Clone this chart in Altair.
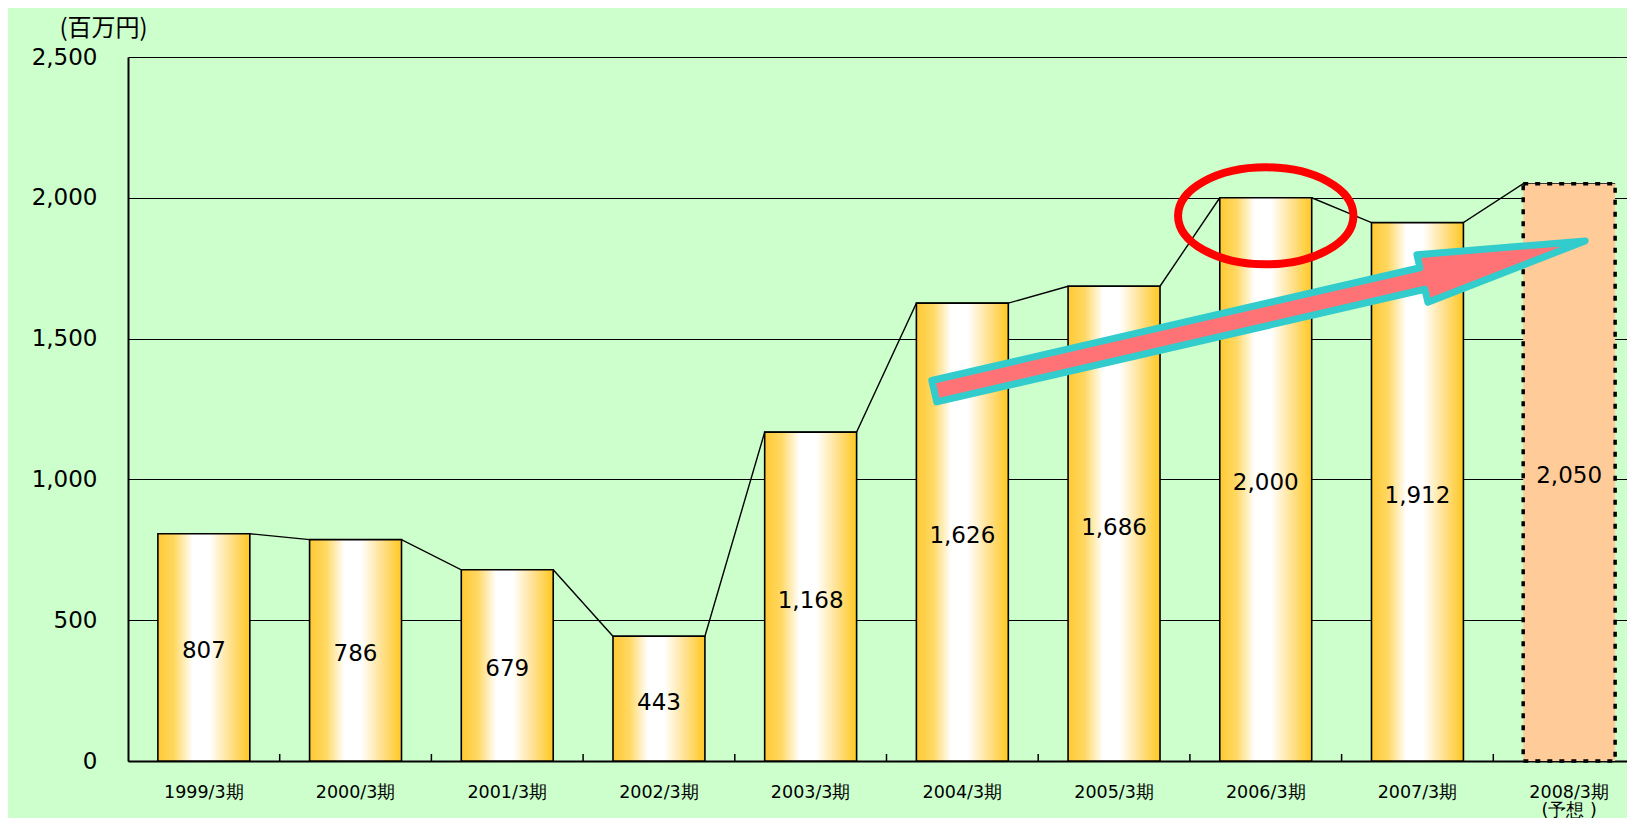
import altair as alt
import pandas as pd

# ---------------- data ----------------
categories = ["1999/3期", "2000/3期", "2001/3期", "2002/3期", "2003/3期",
              "2004/3期", "2005/3期", "2006/3期", "2007/3期", "2008/3期"]
values = [807, 786, 679, 443, 1168, 1626, 1686, 2000, 1912, 2050]
kinds = ["実績"] * 9 + ["予想"]
y_ticks = [0, 500, 1000, 1500, 2000, 2500]
forecast_note = "(予想 )"
unit_title = "(百万円)"

# annotation anchors (data space)
highlight_category = "2006/3期"
highlight_value = 1936
arrow_pos = 7.46      # position on a 0..10 category index axis
arrow_value = 1580

# ---------------- layout / style ----------------
W, H = 1499, 704
BAND_RANGE = 1517
BAR_FRAC = 0.606

df = pd.DataFrame({"cat": categories, "value": values, "kind": kinds})

rows = []
for i, v in enumerate(values):
    rows.append({"pos": i + (1 - BAR_FRAC) / 2, "value": v, "order": 2 * i})
    rows.append({"pos": i + (1 + BAR_FRAC) / 2, "value": v, "order": 2 * i + 1})
line_df = pd.DataFrame(rows)

xband = alt.Scale(domain=categories, range=[0, BAND_RANGE], paddingInner=0, paddingOuter=0)
xq = alt.Scale(domain=[0, len(categories)], range=[0, BAND_RANGE], nice=False, zero=False)
yscale = alt.Scale(domain=[0, 2500], nice=False)

yaxis = alt.Axis(
    values=y_ticks, labelExpr="format(datum.value, ',.0f')", grid=True,
    gridColor="black",
    gridWidth=1.2, ticks=False, tickSize=0, domain=True, domainColor="black", domainWidth=2,
    labelFont="DejaVu Sans", labelFontSize=23, labelColor="black", labelPadding=31,
    title=unit_title, titleAngle=0, titleX=-25, titleY=-29, titleAlign="center",
    titleBaseline="middle", titleFont="Noto Sans CJK JP", titleFontSize=24,
    titleFontWeight="normal", titleColor="black",
)


def Y(field):
    return alt.Y(field, scale=yscale, axis=yaxis)


label_expr = (f"datum.value == '{categories[-1]}' ? "
              f"['{categories[-1]}', '{forecast_note}'] : datum.label")
xaxis = alt.Axis(
    title=None, labelAngle=0, labelFont="DejaVu Sans", labelFontSize=17.5, labelColor="black",
    labelPadding=22, ticks=False, grid=False, domainColor="black", domainWidth=2,
    labelExpr=label_expr, labelLineHeight=18, labelOverlap=False,
)

gradient = alt.LinearGradient(
    gradient="linear", x1=0, x2=1, y1=0, y2=0,
    stops=[
        alt.GradientStop(offset=0.0, color="#FFC933"),
        alt.GradientStop(offset=0.18, color="#FFD863"),
        alt.GradientStop(offset=0.38, color="#FFFFFF"),
        alt.GradientStop(offset=0.56, color="#FFFFFF"),
        alt.GradientStop(offset=0.80, color="#FFDF88"),
        alt.GradientStop(offset=1.0, color="#FFC821"),
    ],
)

base = alt.Chart(df)

series_line = alt.Chart(line_df).mark_line(color="black", strokeWidth=1.4).encode(
    x=alt.X("pos:Q", scale=xq, axis=None),
    y=Y("value:Q"),
    order="order:Q",
)

bars_actual = base.transform_filter("datum.kind == '実績'").mark_bar(
    width=alt.RelativeBandSize(BAR_FRAC), fill=gradient, stroke="black", strokeWidth=1.6
).encode(
    x=alt.X("cat:N", scale=xband, sort=categories, axis=xaxis),
    y=Y("value:Q"),
)

bars_fc = base.transform_filter("datum.kind == '予想'").mark_bar(
    width=alt.RelativeBandSize(BAR_FRAC), fill="#FFCC99", stroke="black",
    strokeWidth=3.5, strokeDash=[5, 7]
).encode(
    x=alt.X("cat:N", scale=xband, sort=categories, axis=None),
    y=Y("value:Q"),
)

tick_marks = base.transform_filter(f"datum.cat != '{categories[0]}'").mark_rule(
    color="black", strokeWidth=1.5
).encode(
    x=alt.X("cat:N", scale=xband, sort=categories, bandPosition=0, axis=None),
    y=alt.value(H - 7), y2=alt.value(H),
)

value_labels = base.transform_calculate(mid="datum.value / 2").mark_text(
    font="DejaVu Sans", fontSize=23, dy=4, color="black", baseline="middle"
).encode(
    x=alt.X("cat:N", scale=xband, sort=categories, axis=None),
    y=Y("mid:Q"),
    text=alt.Text("value:Q", format=",.0f"),
)

ellipse_path = "M -1 0 A 1 0.553 0 1 0 1 0 A 1 0.553 0 1 0 -1 0 Z"
ellipse = alt.Chart(pd.DataFrame({"cat": [highlight_category], "value": [highlight_value]})).mark_point(
    shape=ellipse_path, size=30766, filled=False, color="#FF0000", strokeWidth=8, opacity=1
).encode(
    x=alt.X("cat:N", scale=xband, sort=categories, axis=None),
    y=Y("value:Q"),
)

arrow_path = ("M -1 -0.033 L 0.5 -0.033 L 0.5 -0.073 L 1 0 L 0.5 0.073 "
              "L 0.5 0.033 L -1 0.033 Z")
arrow = alt.Chart(pd.DataFrame({"pos": [arrow_pos], "value": [arrow_value]})).mark_point(
    shape=arrow_path, size=446224, angle=347, filled=True, fill="#FF7377",
    stroke="#33CCCC", strokeWidth=7, strokeJoin="round", opacity=1, fillOpacity=1
).encode(
    x=alt.X("pos:Q", scale=xq, axis=None),
    y=Y("value:Q"),
)

chart = alt.layer(
    series_line, bars_actual, bars_fc, tick_marks, value_labels, ellipse, arrow
).resolve_scale(x="independent").properties(
    width=W, height=H, background="#CCFFCC",
    padding={"left": 120, "top": 49, "right": 0, "bottom": 57},
    autosize=alt.AutoSizeParams(type="none"),
).configure_view(stroke=None)

chart.save("out.html", embed_options={"renderer": "svg", "actions": False})
